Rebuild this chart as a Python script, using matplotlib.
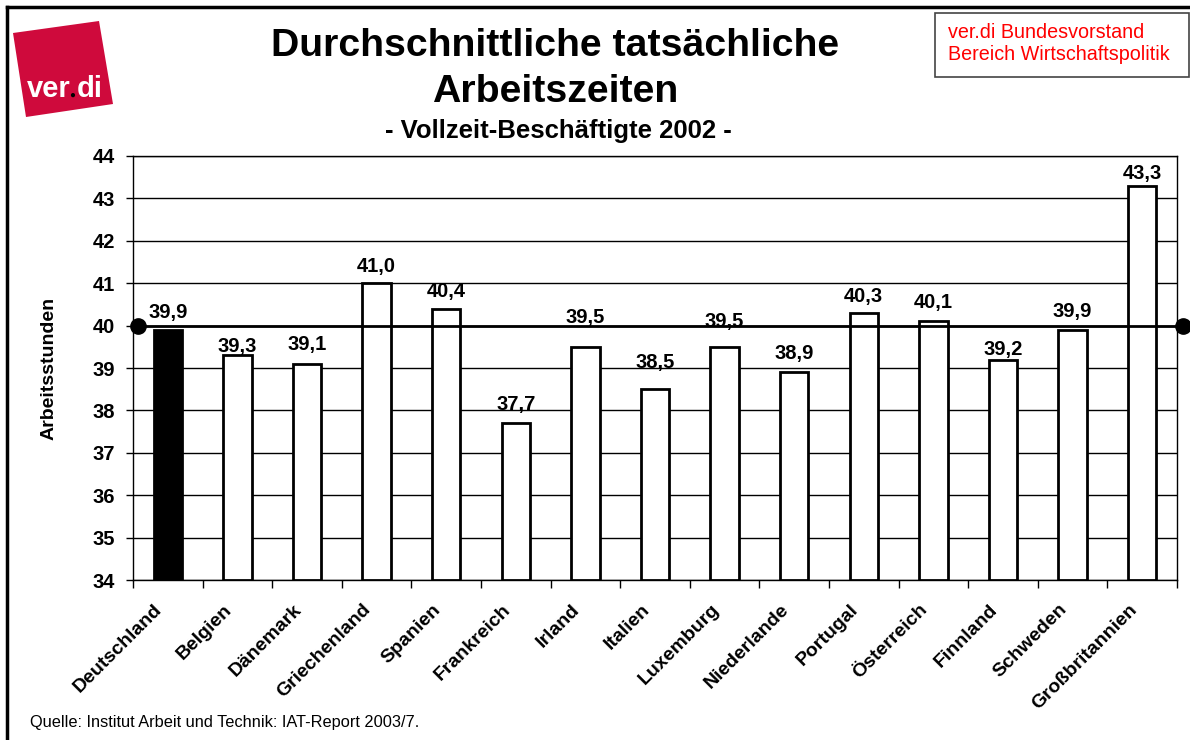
import numpy as np
import matplotlib.pyplot as plt
from matplotlib.patches import Polygon, Rectangle
from matplotlib.lines import Line2D
from matplotlib.transforms import ScaledTranslation

plt.rcParams['font.family'] = ['Liberation Sans', 'DejaVu Sans']

countries = ["Deutschland", "Belgien", "Dänemark", "Griechenland", "Spanien",
             "Frankreich", "Irland", "Italien", "Luxemburg", "Niederlande",
             "Portugal", "Österreich", "Finnland", "Schweden", "Großbritannien"]
hours = [39.9, 39.3, 39.1, 41.0, 40.4, 37.7, 39.5, 38.5, 39.5, 38.9,
         40.3, 40.1, 39.2, 39.9, 43.3]
reference_hours = 40
y_ticks = [34, 35, 36, 37, 38, 39, 40, 41, 42, 43, 44]

# label gaps above bar tops (pixels), labels were hand-placed in the original
label_gaps = [12, 3, 14, 11, 12, 13, 24, 21, 20, 13, 11, 13, 5, 13, 7]

W, H = 1190, 740
fig = plt.figure(figsize=(W / 100, H / 100), dpi=100)


def fx(px):
    return px / W


def fy(py):
    return 1 - py / H


ax = fig.add_axes([fx(133), fy(580), fx(1177) - fx(133), fy(156) - fy(580)])

x = np.arange(len(countries))
colors = ["black"] + ["white"] * (len(countries) - 1)
ax.bar(x, [h - y_ticks[0] for h in hours], bottom=y_ticks[0], width=0.41,
       color=colors, edgecolor="black", linewidth=2.0, zorder=3)

ax.set_xlim(-0.5, len(countries) - 0.5)
ax.set_ylim(y_ticks[0], y_ticks[-1])
ax.set_yticks(y_ticks)
ax.set_yticklabels([str(t) for t in y_ticks], fontsize=14.5, fontweight="bold")
ax.grid(axis="y", color="black", linewidth=1.0, zorder=0)
ax.set_axisbelow(True)
for s in ax.spines.values():
    s.set_linewidth(1.0)

# category labels drawn as text so they can be nudged left like the original
ax.set_xticks(np.arange(-0.5, len(countries), 1.0))
ax.set_xticklabels([])
ax.tick_params(axis="x", length=6, width=1, direction="out")
ax.tick_params(axis="y", length=5, width=1, direction="out", pad=8)
lbl_tr = ax.get_xaxis_transform() + ScaledTranslation(-0.14, -0.21, fig.dpi_scale_trans)
for xi, name in zip(x, countries):
    ax.text(xi, 0, name, transform=lbl_tr, rotation=45, ha="right", va="top",
            rotation_mode="anchor", fontsize=14, fontweight="bold")

ax.set_ylabel("Arbeitsstunden", fontsize=14, fontweight="bold", labelpad=25)

# 40-hour reference line with dots at ends
xl = [-0.43, len(countries) - 0.41]
ax.plot(xl, [reference_hours, reference_hours], color="black", linewidth=2.0,
        zorder=4, clip_on=False)
ax.plot(xl, [reference_hours, reference_hours], "o", color="black",
        markersize=11, zorder=5, clip_on=False)

for xi, h, g in zip(x, hours, label_gaps):
    ax.annotate(f"{h:.1f}".replace(".", ","), (xi, h), xytext=(0, g),
                textcoords="offset pixels", ha="center", va="baseline",
                fontsize=14.5, fontweight="bold", zorder=6)

# titles
fig.text(fx(555), fy(46), "Durchschnittliche tatsächliche", ha="center",
         va="center", fontsize=28.3, fontweight="bold")
fig.text(fx(555), fy(92), "Arbeitszeiten", ha="center", va="center",
         fontsize=28.3, fontweight="bold")
fig.text(fx(558), fy(131), "- Vollzeit-Beschäftigte 2002 -", ha="center",
         va="center", fontsize=18.5, fontweight="bold")

# red info box
fig.patches.append(Rectangle((fx(935), fy(77)), fx(1189) - fx(935),
                             fy(13) - fy(77), transform=fig.transFigure,
                             facecolor="white", edgecolor="#444444",
                             linewidth=1.2))
fig.text(fx(948), fy(32), "ver.di Bundesvorstand", color="red",
         fontsize=14.2, va="center")
fig.text(fx(948), fy(55), "Bereich Wirtschaftspolitik", color="red",
         fontsize=14.2, va="center")

# ver.di logo
logo = [(13, 33), (99, 21), (113, 104), (26, 117)]
fig.patches.append(Polygon([(fx(a), fy(b)) for a, b in logo], closed=True,
                           transform=fig.transFigure, facecolor="#cf0a3c",
                           edgecolor="none"))
fig.text(fx(71), fy(97), "ver", color="white", fontsize=21,
         fontweight="bold", ha="right", va="baseline")
fig.text(fx(69.5), fy(98), "\u25cf", color="black", fontsize=7,
         ha="left", va="baseline")
fig.text(fx(77), fy(97), "di", color="white", fontsize=21,
         fontweight="bold", ha="left", va="baseline")

# page frame
fig.lines.append(Line2D([fx(7), fx(7)], [fy(7), 0], transform=fig.transFigure,
                        color="black", linewidth=2.5))
fig.lines.append(Line2D([fx(7), 1], [fy(7), fy(7)], transform=fig.transFigure,
                        color="black", linewidth=2.5))

fig.text(fx(30), fy(722), "Quelle: Institut Arbeit und Technik: IAT-Report 2003/7.",
         fontsize=11.8, va="center")

plt.savefig("out.png", dpi=100)
